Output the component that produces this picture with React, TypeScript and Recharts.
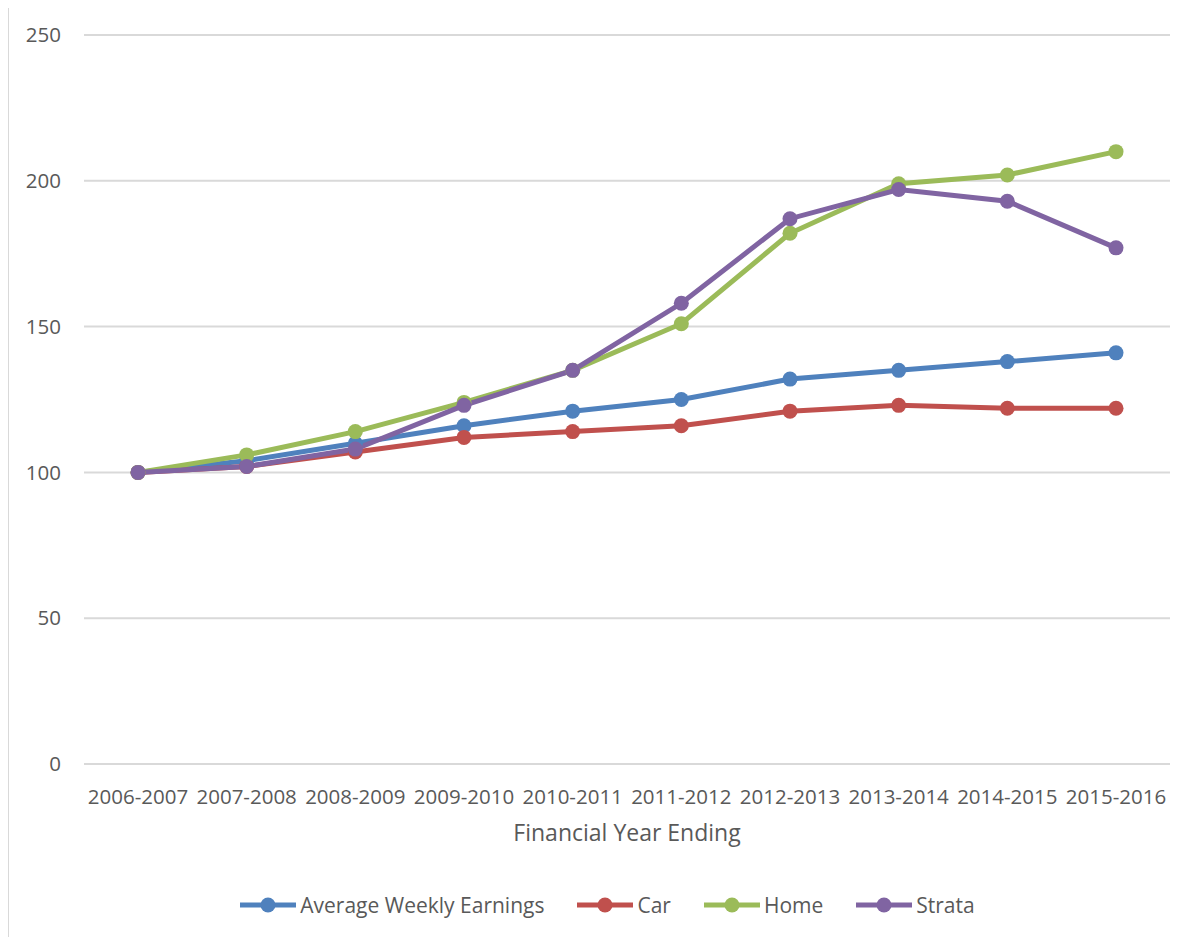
import React from 'react';
import {
  LineChart,
  Line,
  XAxis,
  YAxis,
  CartesianGrid,
  Legend,
  Label,
} from 'recharts';

const years = [
  '2006-2007',
  '2007-2008',
  '2008-2009',
  '2009-2010',
  '2010-2011',
  '2011-2012',
  '2012-2013',
  '2013-2014',
  '2014-2015',
  '2015-2016',
];

const earnings = [100, 104, 110, 116, 121, 125, 132, 135, 138, 141];
const car = [100, 102, 107, 112, 114, 116, 121, 123, 122, 122];
const home = [100, 106, 114, 124, 135, 151, 182, 199, 202, 210];
const strata = [100, 102, 108, 123, 135, 158, 187, 197, 193, 177];

const yTicks = [0, 50, 100, 150, 200, 250];

const series = [
  { key: 'earnings', name: 'Average Weekly Earnings', color: '#4F81BD' },
  { key: 'car', name: 'Car', color: '#C0504D' },
  { key: 'home', name: 'Home', color: '#9BBB59' },
  { key: 'strata', name: 'Strata', color: '#8064A2' },
];

const data = years.map((year, i) => ({
  year,
  earnings: earnings[i],
  car: car[i],
  home: home[i],
  strata: strata[i],
}));

const FONT = '"Open Sans", sans-serif';
const TEXT = '#595959';
const GRID = '#d9d9d9';

function LegendRow() {
  return (
    <div
      style={{
        display: 'flex',
        justifyContent: 'center',
        alignItems: 'center',
        gap: 33,
        height: 36,
        paddingLeft: 36,
        fontFamily: FONT,
        fontSize: 21,
        color: TEXT,
      }}
    >
      {series.map((s) => (
        <span key={s.key} style={{ display: 'flex', alignItems: 'center' }}>
          <svg width={56} height={16} style={{ marginRight: 4 }}>
            <line x1={0} y1={8} x2={56} y2={8} stroke={s.color} strokeWidth={5} />
            <circle cx={28} cy={8} r={7.5} fill={s.color} />
          </svg>
          {s.name}
        </span>
      ))}
    </div>
  );
}

export default function App() {
  return (
    <div
      style={{
        marginLeft: -1,
        marginTop: -3,
        width: 1200,
        height: 960,
        border: `2px solid ${GRID}`,
        boxSizing: 'border-box',
        background: '#fff',
      }}
    >
      <LineChart
        width={1178}
        height={928}
        data={data}
        margin={{ top: 28, right: 17, left: 0, bottom: 12 }}
      >
        <CartesianGrid vertical={false} stroke={GRID} strokeWidth={2} />
        <XAxis
          dataKey="year"
          height={123}
          padding={{ left: 54, right: 54 }}
          axisLine={{ stroke: GRID, strokeWidth: 2 }}
          tickLine={false}
          tickMargin={19}
          interval={0}
          tick={{ fill: TEXT, fontSize: 20.5, fontFamily: FONT }}
        >
          <Label
            value="Financial Year Ending"
            position="insideTop"
            offset={61}
            fill={TEXT}
            fontSize={23}
            fontFamily={FONT}
          />
        </XAxis>
        <YAxis
          width={75}
          domain={[0, 250]}
          ticks={yTicks}
          axisLine={false}
          tickLine={false}
          tickMargin={17}
          tick={{ fill: TEXT, fontSize: 20.5, fontFamily: FONT }}
        />
        {series.map((s) => (
          <Line
            key={s.key}
            type="linear"
            dataKey={s.key}
            name={s.name}
            stroke={s.color}
            strokeWidth={5}
            dot={{ r: 7.5, fill: s.color, stroke: s.color, strokeWidth: 0 }}
            activeDot={false}
            isAnimationActive={false}
          />
        ))}
        <Legend verticalAlign="bottom" content={<LegendRow />} />
      </LineChart>
    </div>
  );
}
